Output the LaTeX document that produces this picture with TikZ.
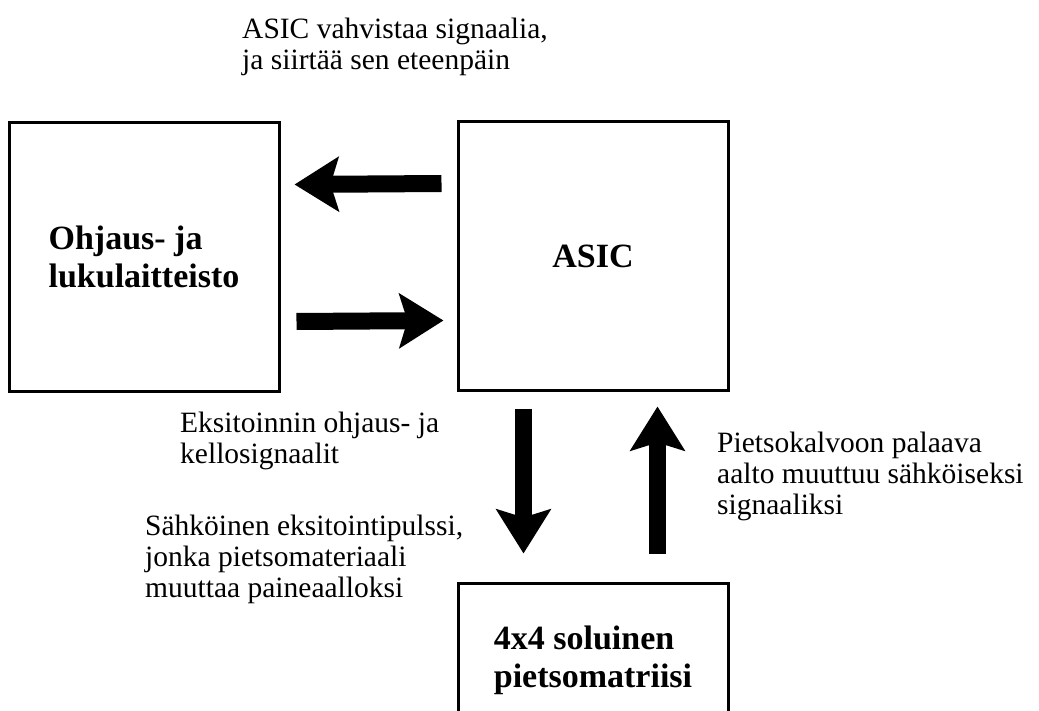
\documentclass[tikz,border=0pt]{standalone}
\usepackage{fontspec}
\setmainfont{Liberation Serif}
\usetikzlibrary{arrows.meta}
\tikzset{>={Stealth[length=44pt, width=54pt, inset=8pt]}}
\tikzset{
    lohko/.style = {draw, line width=3pt, minimum width=270pt, minimum height=268pt,
        align=left, font=\fontsize{34}{38}\selectfont\bfseries},
    selite/.style = {anchor=north west, inner sep=0pt, align=left,
        font=\fontsize{29.5}{31}\selectfont},
    nuoli/.style = {->, line width=17pt}
}

\begin{document}
\begin{tikzpicture}[x=1pt, y=1pt]
    \useasboundingbox (0,0) rectangle (1039,-711);
    \node[lohko] (ohjaus) at (144,-257) {Ohjaus- ja\\lukulaitteisto};
    \node[lohko] (asic) at (593,-256) {ASIC};
    \node[lohko, minimum height=154pt] (matriisi) at (593,-660) {4x4 soluinen\\pietsomatriisi};
    \node[selite] (vahvistus) at (242,-18) {ASIC vahvistaa signaalia,\\ja siirtää sen eteenpäin};
    \node[selite] (eksitointi) at (180,-412) {Eksitoinnin ohjaus- ja\\kellosignaalit};
    \node[selite] (pulssi) at (145,-515) {Sähköinen eksitointipulssi,\\jonka pietsomateriaali\\muuttaa paineaalloksi};
    \node[selite] (paluu) at (717,-432) {Pietsokalvoon palaava\\aalto muuttuu sähköiseksi\\signaaliksi};
    \draw[nuoli] ([shift={(-15,-63)}]asic.north west) -- ([shift={(14,-63)}]ohjaus.north east);
    \draw[nuoli] ([shift={(16,-200)}]ohjaus.north east) -- ([shift={(-13,-200)}]asic.north west);
    \draw[nuoli] ([shift={(67,-17)}]asic.south west) -- ([shift={(67,28)}]matriisi.north west);
    \draw[nuoli] ([shift={(201,28)}]matriisi.north west) -- ([shift={(201,-15)}]asic.south west);
\end{tikzpicture}
\end{document}
